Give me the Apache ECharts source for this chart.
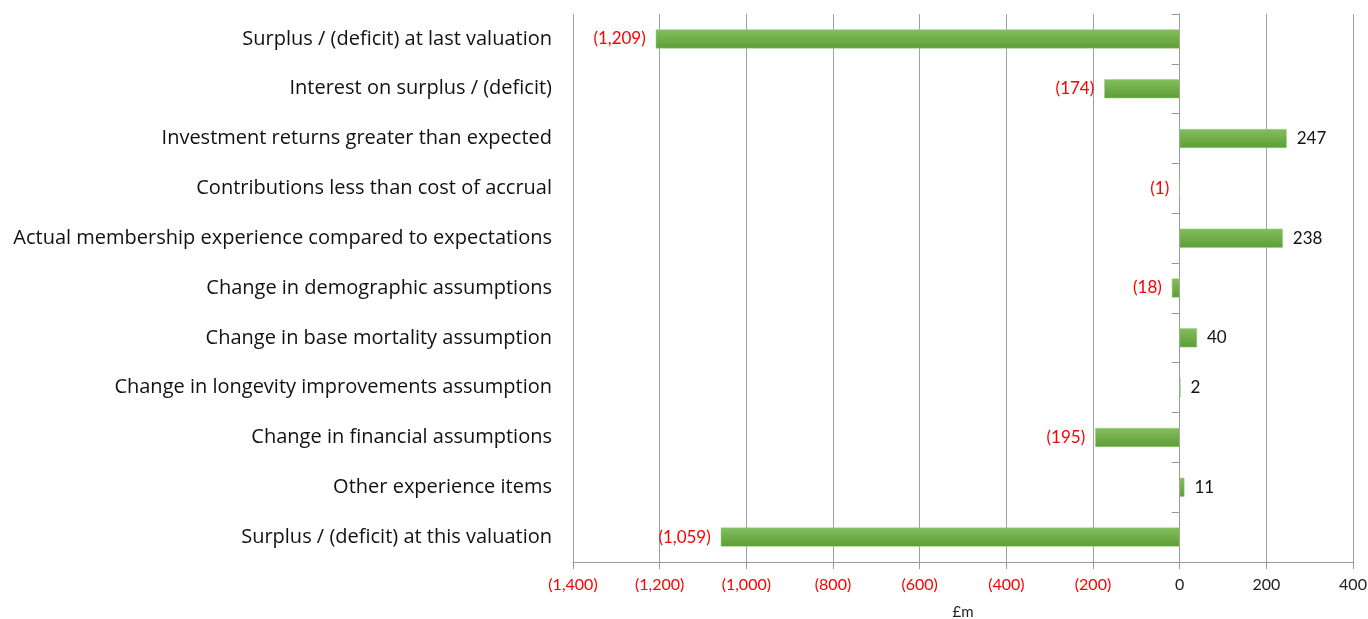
<!DOCTYPE html>
<html lang="en">
<head>
  <meta charset="UTF-8">
  <title>Surplus analysis</title>
  <style>
    html, body { margin: 0; padding: 0; background: #fff; }
    #main { width: 1368px; height: 619px; }
  </style>
</head>
<body>
  <div id="main"></div>
  <script src="https://cdn.jsdelivr.net/npm/echarts@6/dist/echarts.min.js"></script>
  <script>
    // categories top to bottom
    const categories = [
      'Surplus / (deficit) at last valuation',
      'Interest on surplus / (deficit)',
      'Investment returns greater than expected',
      'Contributions less than cost of accrual',
      'Actual membership experience compared to expectations',
      'Change in demographic assumptions',
      'Change in base mortality assumption',
      'Change in longevity improvements assumption',
      'Change in financial assumptions',
      'Other experience items',
      'Surplus / (deficit) at this valuation'
    ];
    const values = [-1209, -174, 247, -1, 238, -18, 40, 2, -195, 11, -1059];

    // Excel style number: negatives in brackets
    function fmt(v) {
      const s = Math.abs(v).toLocaleString('en-GB');
      return v < 0 ? '(' + s + ')' : s;
    }

    const font = 'Lato, "Noto Sans", sans-serif';
    const catFont = '"Open Sans", "Noto Sans", sans-serif';

    let myChart = echarts.init(document.getElementById('main'));

    let barData = values.map(function (v) {
      return {
        value: v,
        label: {
          position: v < 0 ? 'left' : 'right',
          color: v < 0 ? '#ff0000' : '#111'
        }
      };
    });

    let option = {
      animation: false,
      grid: { left: 573, right: 15, top: 14, bottom: 57, outerBoundsMode: 'none' },
      xAxis: {
        type: 'value',
        min: -1400,
        max: 400,
        interval: 200,
        name: '£m',
        nameLocation: 'middle',
        nameGap: 43,
        nameTextStyle: { fontFamily: font, fontSize: 15, color: '#222' },
        axisLine: { show: true, lineStyle: { color: '#999' } },
        axisTick: { show: true, length: 7, lineStyle: { color: '#999' } },
        axisLabel: {
          margin: 15,
          fontFamily: font,
          fontSize: 16,
          formatter: fmt,
          color: function (v) { return v < 0 ? '#ff0000' : '#222'; }
        },
        splitLine: { show: true, lineStyle: { color: '#a0a0a0' } }
      },
      yAxis: [
        {
          // labels on the left edge
          type: 'category',
          data: categories,
          inverse: true,
          axisLine: { show: false, onZero: false },
          axisTick: { show: false },
          axisLabel: { margin: 21, fontFamily: catFont, fontSize: 20, color: '#111' }
        },
        {
          // axis line with ticks at zero
          type: 'category',
          data: categories,
          inverse: true,
          position: 'left',
          axisLine: { show: true, onZero: true, lineStyle: { color: '#999' } },
          axisTick: { show: true, length: 8, lineStyle: { color: '#999' } },
          axisLabel: { show: false }
        }
      ],
      series: [
        {
          type: 'bar',
          yAxisIndex: 0,
          data: barData,
          barWidth: 19,
          itemStyle: {
            color: new echarts.graphic.LinearGradient(0, 0, 0, 1, [
              { offset: 0, color: '#84be5f' },
              { offset: 1, color: '#5c9d34' }
            ]),
            borderColor: '#9ccc80',
            borderWidth: 0.5
          },
          label: {
            show: true,
            distance: 10,
            fontFamily: font,
            fontSize: 17,
            formatter: function (p) { return fmt(p.value); }
          }
        }
      ]
    };
    myChart.setOption(option);
  </script>
</body>
</html>
